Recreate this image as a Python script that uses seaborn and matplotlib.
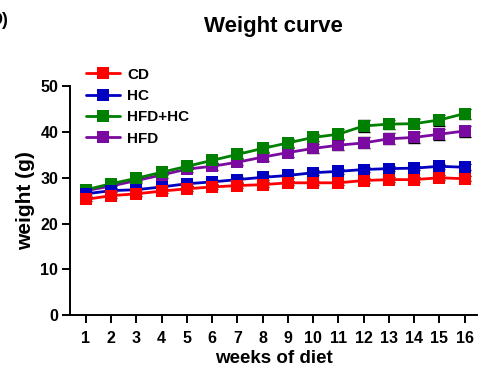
import numpy as np
import pandas as pd
import matplotlib
matplotlib.use("Agg")
import matplotlib.pyplot as plt
import seaborn as sns
from matplotlib.lines import Line2D

weeks = list(range(1, 17))
groups = ["CD", "HC", "HFD+HC", "HFD"]
colors = {"CD": "#ff0000", "HC": "#0000c0", "HFD+HC": "#008000", "HFD": "#7a0aa0"}

cd_mean = [25.3, 26.1, 26.5, 27.1, 27.6, 28.0, 28.3, 28.5, 28.9, 28.9, 28.9, 29.4, 29.6, 29.6, 30.0, 29.8]
cd_err = [0.4, 0.4, 0.4, 0.4, 0.5, 0.5, 0.5, 0.5, 0.5, 0.5, 0.5, 0.5, 0.5, 0.5, 0.5, 0.5]
hc_mean = [26.5, 27.2, 27.4, 28.0, 28.7, 29.1, 29.6, 30.1, 30.5, 31.1, 31.4, 31.8, 32.0, 32.1, 32.5, 32.3]
hc_err = [0.4, 0.4, 0.4, 0.4, 0.4, 0.5, 0.5, 0.5, 0.5, 0.5, 0.5, 0.5, 0.5, 0.5, 0.6, 0.6]
hfdhc_mean = [27.4, 28.7, 29.9, 31.2, 32.5, 33.8, 35.1, 36.4, 37.6, 38.8, 39.5, 41.3, 41.7, 41.8, 42.6, 44.0]
hfdhc_err = [0.5, 0.5, 0.5, 0.6, 0.6, 0.6, 0.7, 0.7, 0.8, 0.8, 1.1, 1.3, 1.0, 1.0, 1.2, 1.1]
hfd_mean = [27.2, 28.2, 29.4, 30.6, 31.9, 32.5, 33.4, 34.5, 35.5, 36.4, 37.1, 37.6, 38.5, 38.8, 39.5, 40.2]
hfd_err = [0.5, 0.5, 0.5, 0.6, 0.6, 0.7, 0.7, 0.8, 0.9, 1.0, 1.1, 1.2, 1.2, 1.2, 1.2, 1.2]

means = {"CD": cd_mean, "HC": hc_mean, "HFD+HC": hfdhc_mean, "HFD": hfd_mean}
errs = {"CD": cd_err, "HC": hc_err, "HFD+HC": hfdhc_err, "HFD": hfd_err}

rows = []
for g in groups:
    for w, m, e in zip(weeks, means[g], errs[g]):
        rows.append({"week": w, "weight": m, "err": e, "group": g})
df = pd.DataFrame(rows)

sns.set_style("ticks")
plt.rcParams["font.family"] = ["Liberation Sans", "DejaVu Sans"]
plt.rcParams["font.weight"] = "bold"
for k in ["text.color", "axes.labelcolor", "xtick.color", "ytick.color", "axes.edgecolor"]:
    plt.rcParams[k] = "black"

fig = plt.figure(figsize=(4.83, 3.71), dpi=100)
ax = fig.add_axes([0.145, 0.150, 0.843, 0.618])

draw_order = ["HFD", "HFD+HC", "HC", "CD"]
for i, g in enumerate(draw_order):
    sub = df[df["group"] == g]
    ax.errorbar(sub["week"], sub["weight"], yerr=sub["err"], fmt="none",
                ecolor="black", elinewidth=1.0, capsize=4, capthick=1.0,
                zorder=2 + 2 * i)
    sns.lineplot(data=sub, x="week", y="weight", ax=ax, color=colors[g],
                 marker="s", markersize=8.5, markeredgewidth=0, linewidth=2.0,
                 errorbar=None, zorder=3 + 2 * i, legend=False)

ax.set_xlim(0.37, 16.5)
ax.set_ylim(0, 50)
ax.set_xticks(weeks)
ax.set_xticklabels([str(w) for w in weeks])
ax.set_yticks([0, 10, 20, 30, 40, 50])
sns.despine(ax=ax)
for s in ["left", "bottom"]:
    ax.spines[s].set_linewidth(1.4)
ax.tick_params(axis="both", width=1.4, length=5.5, labelsize=11.5)
ax.tick_params(axis="x", pad=6)
ax.tick_params(axis="y", pad=3)
for lab in ax.get_xticklabels() + ax.get_yticklabels():
    lab.set_fontweight("bold")
ax.set_xlabel("weeks of diet", fontsize=13.5, fontweight="bold", labelpad=3)
ax.set_ylabel("weight (g)", fontsize=15, fontweight="bold", labelpad=4)
ax.set_title("Weight curve", fontsize=16, fontweight="bold", pad=39)

handles = [Line2D([0], [0], color=colors[g], marker="s", markersize=8.5,
                  markeredgewidth=0, linewidth=2.0) for g in groups]
leg = fig.legend(handles, groups, loc="upper left", bbox_to_anchor=(0.178, 0.818),
                 frameon=False, prop={"weight": "bold", "size": 11},
                 handlelength=2.2, handletextpad=0.5, labelspacing=0.48,
                 borderaxespad=0, borderpad=0)

fig.text(-0.022, 0.945, "D)", fontsize=13, fontweight="bold", ha="left", va="center")

fig.savefig("out.png", dpi=100)
